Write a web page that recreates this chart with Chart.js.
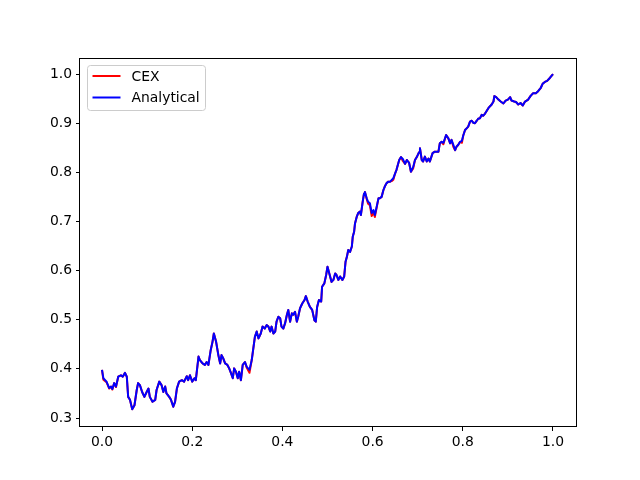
<!DOCTYPE html>
<html>
<head>
<meta charset="utf-8">
<script src="https://cdn.jsdelivr.net/npm/chart.js@4.4.0/dist/chart.umd.min.js"></script>
<style>
  html, body { margin: 0; padding: 0; background: #ffffff; }
  canvas { display: block; }
</style>
</head>
<body>
<canvas id="c" width="640" height="480"></canvas>
<script>
// Shared x positions (fraction 0..1)
const xValues = [
0.000,0.003,0.010,0.016,0.020,0.023,0.027,0.031,0.036,0.042,0.046,0.051,0.055,0.058,0.062,0.067,0.072,0.077,0.080,0.084,
0.089,0.094,0.099,0.103,0.106,0.112,0.118,0.121,0.127,0.132,0.136,0.140,0.143,0.149,0.153,0.158,0.162,0.166,0.171,0.177,
0.182,0.188,0.191,0.195,0.200,0.205,0.208,0.214,0.217,0.223,0.228,0.232,0.236,0.241,0.245,0.248,0.253,0.258,0.262,0.265,
0.269,0.273,0.278,0.282,0.285,0.290,0.293,0.297,0.301,0.304,0.308,0.312,0.317,0.321,0.327,0.332,0.335,0.339,0.343,0.347,
0.352,0.356,0.361,0.365,0.369,0.373,0.376,0.380,0.384,0.387,0.391,0.395,0.398,0.402,0.406,0.410,0.413,0.417,0.421,0.424,
0.428,0.432,0.435,0.439,0.444,0.449,0.452,0.456,0.461,0.466,0.471,0.474,0.477,0.481,0.486,0.488,0.493,0.497,0.500,0.504,
0.509,0.513,0.517,0.520,0.524,0.528,0.533,0.537,0.540,0.543,0.546,0.550,0.554,0.556,0.559,0.561,0.565,0.568,0.572,0.574,
0.578,0.581,0.583,0.587,0.590,0.594,0.598,0.602,0.605,0.609,0.613,0.616,0.620,0.624,0.627,0.631,0.635,0.639,0.642,0.646,
0.650,0.653,0.659,0.663,0.667,0.672,0.676,0.681,0.685,0.690,0.694,0.698,0.703,0.705,0.709,0.712,0.716,0.720,0.724,0.727,
0.733,0.738,0.746,0.749,0.753,0.757,0.763,0.768,0.772,0.775,0.779,0.783,0.786,0.790,0.794,0.798,0.801,0.805,0.809,0.812,
0.816,0.820,0.823,0.827,0.831,0.834,0.838,0.842,0.845,0.849,0.857,0.864,0.868,0.870,0.874,0.879,0.884,0.890,0.895,0.900,
0.905,0.908,0.914,0.918,0.923,0.928,0.933,0.938,0.945,0.950,0.956,0.962,0.967,0.973,0.977,0.982,0.987,0.993,1.000
];

const analyticalValues = [
0.398,0.381,0.374,0.361,0.364,0.359,0.371,0.364,0.384,0.387,0.384,0.392,0.384,0.343,0.337,0.318,0.326,0.357,0.371,0.367,
0.353,0.343,0.353,0.360,0.343,0.333,0.337,0.357,0.374,0.367,0.353,0.364,0.350,0.343,0.337,0.323,0.333,0.360,0.374,0.377,
0.374,0.385,0.377,0.387,0.374,0.381,0.377,0.425,0.418,0.411,0.408,0.414,0.408,0.438,0.455,0.472,0.455,0.428,0.411,0.428,
0.421,0.411,0.408,0.401,0.394,0.381,0.401,0.394,0.381,0.394,0.377,0.408,0.414,0.404,0.398,0.418,0.438,0.465,0.476,0.462,
0.472,0.486,0.482,0.489,0.486,0.476,0.486,0.472,0.476,0.496,0.506,0.503,0.486,0.482,0.493,0.510,0.520,0.496,0.513,0.510,
0.516,0.496,0.506,0.523,0.533,0.540,0.548,0.537,0.526,0.520,0.499,0.496,0.526,0.540,0.537,0.567,0.574,0.591,0.608,0.594,
0.577,0.581,0.594,0.591,0.581,0.588,0.581,0.588,0.618,0.628,0.642,0.638,0.649,0.669,0.679,0.696,0.710,0.717,0.720,0.713,
0.740,0.757,0.760,0.747,0.740,0.737,0.717,0.723,0.713,0.730,0.747,0.747,0.750,0.764,0.771,0.778,0.781,0.781,0.784,0.788,
0.798,0.805,0.825,0.831,0.827,0.817,0.825,0.819,0.801,0.811,0.825,0.831,0.841,0.849,0.825,0.822,0.832,0.822,0.828,0.822,
0.839,0.842,0.842,0.859,0.862,0.860,0.876,0.869,0.859,0.866,0.856,0.845,0.852,0.856,0.862,0.864,0.875,0.886,0.890,0.893,
0.903,0.905,0.901,0.900,0.905,0.909,0.910,0.917,0.915,0.919,0.931,0.938,0.944,0.955,0.953,0.948,0.944,0.940,0.946,0.948,
0.953,0.946,0.944,0.943,0.938,0.941,0.936,0.944,0.948,0.955,0.961,0.961,0.965,0.972,0.980,0.984,0.986,0.992,1.000
];

const cexValues = [
0.398,0.378,0.373,0.360,0.364,0.358,0.371,0.363,0.384,0.387,0.384,0.392,0.384,0.343,0.337,0.318,0.326,0.357,0.371,0.367,
0.353,0.343,0.353,0.360,0.343,0.333,0.337,0.357,0.374,0.367,0.353,0.364,0.350,0.343,0.337,0.323,0.333,0.360,0.374,0.377,
0.374,0.385,0.377,0.387,0.374,0.381,0.377,0.425,0.418,0.411,0.408,0.414,0.408,0.438,0.455,0.472,0.455,0.428,0.411,0.428,
0.421,0.411,0.408,0.401,0.394,0.381,0.401,0.394,0.381,0.394,0.377,0.408,0.414,0.402,0.392,0.418,0.438,0.465,0.476,0.462,
0.472,0.486,0.482,0.489,0.486,0.476,0.486,0.472,0.476,0.496,0.506,0.503,0.486,0.482,0.493,0.510,0.520,0.496,0.513,0.510,
0.516,0.496,0.506,0.523,0.533,0.540,0.548,0.537,0.526,0.520,0.499,0.496,0.526,0.540,0.537,0.567,0.574,0.591,0.608,0.594,
0.577,0.581,0.594,0.591,0.581,0.588,0.581,0.588,0.618,0.628,0.642,0.638,0.649,0.669,0.679,0.696,0.710,0.717,0.720,0.713,
0.740,0.757,0.760,0.745,0.736,0.733,0.711,0.718,0.709,0.728,0.747,0.747,0.750,0.764,0.771,0.778,0.781,0.781,0.782,0.785,
0.798,0.805,0.825,0.831,0.823,0.817,0.825,0.819,0.801,0.808,0.825,0.831,0.841,0.849,0.825,0.822,0.832,0.822,0.828,0.822,
0.839,0.842,0.842,0.859,0.862,0.857,0.876,0.869,0.859,0.866,0.852,0.845,0.852,0.856,0.862,0.860,0.875,0.886,0.890,0.893,
0.903,0.905,0.901,0.900,0.905,0.909,0.910,0.917,0.915,0.919,0.931,0.938,0.944,0.955,0.953,0.948,0.944,0.940,0.946,0.948,
0.953,0.946,0.944,0.943,0.938,0.941,0.936,0.944,0.948,0.955,0.961,0.961,0.965,0.972,0.980,0.984,0.986,0.992,1.000
];

const seriesLabels = ['CEX', 'Analytical'];
const xTickStep = 0.2;
const yTickStep = 0.1;

const FONT = { family: "'DejaVu Sans', sans-serif", size: 13.9 };

function toPoints(ys) {
  return xValues.map((x, i) => ({ x: x, y: ys[i] }));
}

const framePlugin = {
  id: 'frame',
  afterDraw(chart) {
    const { ctx, chartArea: a } = chart;
    ctx.save();
    ctx.strokeStyle = '#000000';
    ctx.lineWidth = 1;
    ctx.strokeRect(Math.round(a.left) - 0.5, Math.round(a.top) + 0.5,
                   Math.round(a.right - a.left) + 1, Math.round(a.bottom - a.top) - 1);
    ctx.restore();
  }
};

const legendPlugin = {
  id: 'mplLegend',
  afterDraw(chart) {
    const { ctx, chartArea: a } = chart;
    const x0 = a.left + 7.5, y0 = a.top + 7.5, w = 118, h = 45, r = 3;
    ctx.save();
    ctx.beginPath();
    ctx.moveTo(x0 + r, y0);
    ctx.lineTo(x0 + w - r, y0);
    ctx.arcTo(x0 + w, y0, x0 + w, y0 + r, r);
    ctx.lineTo(x0 + w, y0 + h - r);
    ctx.arcTo(x0 + w, y0 + h, x0 + w - r, y0 + h, r);
    ctx.lineTo(x0 + r, y0 + h);
    ctx.arcTo(x0, y0 + h, x0, y0 + h - r, r);
    ctx.lineTo(x0, y0 + r);
    ctx.arcTo(x0, y0, x0 + r, y0, r);
    ctx.closePath();
    ctx.fillStyle = 'rgba(255,255,255,0.8)';
    ctx.fill();
    ctx.strokeStyle = '#cccccc';
    ctx.lineWidth = 1;
    ctx.stroke();
    ctx.font = `${FONT.size}px ${FONT.family}`;
    ctx.textBaseline = 'middle';
    ctx.fillStyle = '#000000';
    chart.data.datasets.forEach((ds, i) => {
      const yy = y0 + 10.5 + i * 21.5;
      ctx.beginPath();
      ctx.strokeStyle = ds.borderColor;
      ctx.lineWidth = 2;
      ctx.moveTo(x0 + 5, yy);
      ctx.lineTo(x0 + 33, yy);
      ctx.stroke();
      ctx.fillText(ds.label, x0 + 44, yy + 1);
    });
    ctx.restore();
  }
};

new Chart(document.getElementById('c'), {
  type: 'line',
  data: {
    datasets: [
      { label: seriesLabels[0], data: toPoints(cexValues), borderColor: '#ff0000', backgroundColor: '#ff0000',
        borderWidth: 2, borderJoinStyle: 'round', pointRadius: 0, tension: 0, fill: false, order: 2 },
      { label: seriesLabels[1], data: toPoints(analyticalValues), borderColor: '#0000ff', backgroundColor: '#0000ff',
        borderWidth: 2, borderJoinStyle: 'round', pointRadius: 0, tension: 0, fill: false, order: 1 }
    ]
  },
  options: {
    responsive: false,
    animation: false,
    devicePixelRatio: 1,
    layout: { padding: { left: 0, top: 58, right: 64, bottom: 0 } },
    plugins: { legend: { display: false }, tooltip: { enabled: false } },
    scales: {
      x: {
        type: 'linear',
        min: -0.0488,
        max: 1.051,
        afterFit(scale) { scale.height = 53; },
        border: { display: false },
        grid: { drawOnChartArea: false, drawTicks: true, tickLength: 4, color: '#000000', lineWidth: 1 },
        ticks: {
          stepSize: xTickStep, includeBounds: false, autoSkip: false, maxRotation: 0, minRotation: 0,
          padding: 3, color: '#000000', font: FONT,
          callback: v => Number(v).toFixed(1)
        }
      },
      y: {
        type: 'linear',
        min: 0.2817,
        max: 1.0326,
        afterFit(scale) { scale.width = 80; },
        border: { display: false },
        grid: { drawOnChartArea: false, drawTicks: true, tickLength: 4, color: '#000000', lineWidth: 1 },
        ticks: {
          stepSize: yTickStep, includeBounds: false, autoSkip: false,
          padding: 4, color: '#000000', font: FONT,
          callback: v => Number(v).toFixed(1)
        }
      }
    }
  },
  plugins: [framePlugin, legendPlugin]
});
</script>
</body>
</html>
